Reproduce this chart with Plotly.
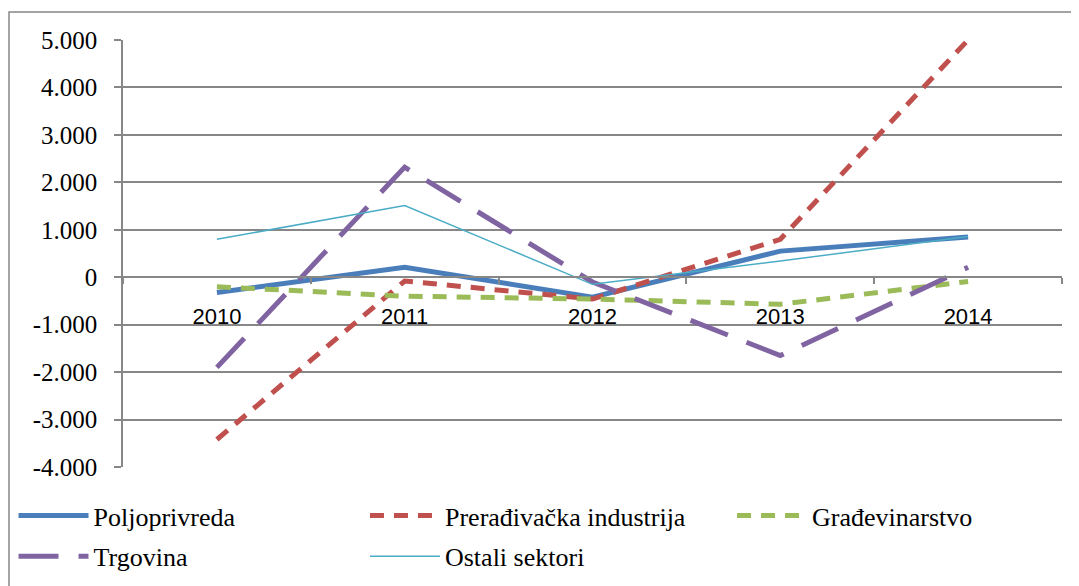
import plotly.graph_objects as go

years = ["2010", "2011", "2012", "2013", "2014"]
poljoprivreda = [-320, 210, -420, 550, 850]
preradjivacka = [-3420, -80, -460, 800, 5000]
gradjevinarstvo = [-200, -400, -460, -570, -90]
trgovina = [-1900, 2320, -100, -1650, 210]
ostali = [800, 1510, -150, 340, 860]
y_ticks = [5000, 4000, 3000, 2000, 1000, 0, -1000, -2000, -3000, -4000]
y_labels = ["5.000", "4.000", "3.000", "2.000", "1.000", "0", "-1.000", "-2.000", "-3.000", "-4.000"]

series = [
    ("Poljoprivreda", poljoprivreda, "#4A7EBB", 5, "solid", "legend"),
    ("Prerađivačka industrija", preradjivacka, "#C0504D", 5, "14px,10px", "legend2"),
    ("Građevinarstvo", gradjevinarstvo, "#9BBB59", 5, "14px,10px", "legend3"),
    ("Trgovina", trgovina, "#8064A2", 5, "40px,20px", "legend"),
    ("Ostali sektori", ostali, "#4BACC6", 1.5, "solid", "legend2"),
]

fig = go.Figure()
for name, vals, color, w, dash, leg in series:
    fig.add_trace(go.Scatter(x=years, y=vals, name=name, mode="lines",
                             line=dict(color=color, width=w, dash=dash),
                             legend=leg, legendgroup=name))

grid = "#878787"
serif = "Liberation Serif, DejaVu Serif, Times New Roman, serif"
legfont = dict(family=serif, size=26, color="black")
legcommon = dict(orientation="v", xanchor="left", yanchor="top", y=-0.0587,
                 font=legfont, itemwidth=70, bgcolor="rgba(0,0,0,0)",
                 traceorder="grouped", tracegroupgap=4)
fig.update_layout(
    width=1079, height=586,
    margin=dict(l=115, r=25, t=32, b=127, autoexpand=False),
    paper_bgcolor="white", plot_bgcolor="white",
    showlegend=True,
    legend=dict(x=-0.1166, **legcommon),
    legend2=dict(x=0.2577, **legcommon),
    legend3=dict(x=0.6486, **legcommon),
    xaxis=dict(type="category", anchor="free", position=4/9,
               showline=True, linecolor=grid, linewidth=1.5,
               tickson="boundaries", ticks="outside", ticklen=6, tickcolor=grid, tickwidth=1.5,
               showgrid=False, zeroline=False, range=[-0.5, 4.5],
               tickfont=dict(family="Liberation Sans, Arial, sans-serif", size=22, color="black"),
               ticklabelstandoff=20),
    yaxis=dict(range=[-4000, 5000], tickvals=y_ticks, ticktext=y_labels,
               showline=True, linecolor=grid, linewidth=1.5,
               ticks="outside", ticklen=7, tickcolor=grid, tickwidth=1.5,
               showgrid=True, gridcolor=grid, gridwidth=1.5, zeroline=False,
               tickfont=dict(family=serif, size=25, color="black"),
               ticklabelstandoff=12),
)

fig.add_shape(type="rect", xref="paper", yref="paper",
              x0=-0.1214, x1=1.05, y0=-0.35, y1=1.0656,
              line=dict(color=grid, width=1.5), layer="below")

fig.write_html("out.html")
